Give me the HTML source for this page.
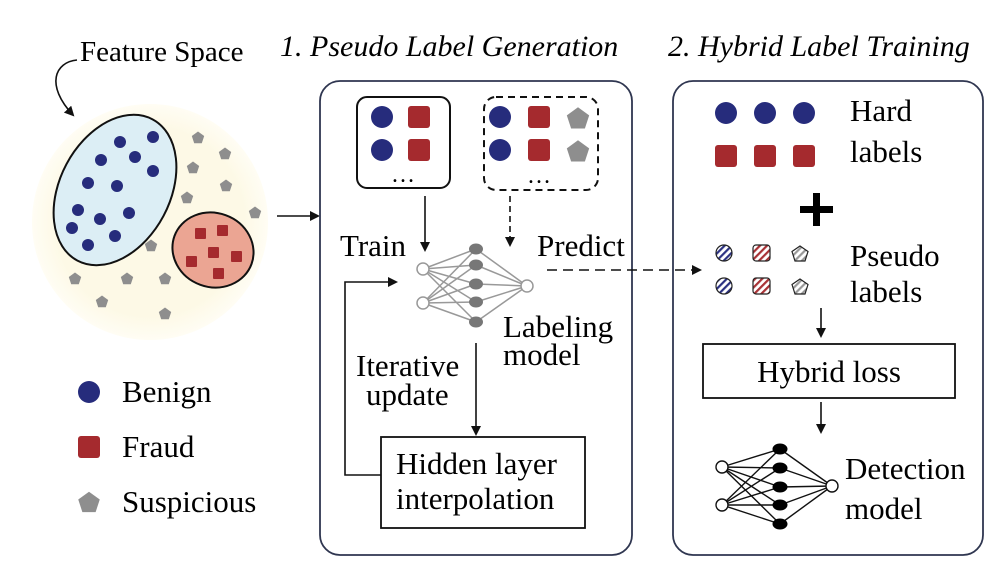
<!DOCTYPE html>
<html><head><meta charset="utf-8"><style>
html,body{margin:0;padding:0;background:#fff;}
svg{display:block;font-family:"Liberation Serif",serif;}
</style></head><body>
<svg width="1000" height="577" viewBox="0 0 1000 577" xmlns="http://www.w3.org/2000/svg">
<defs>
<marker id="ah" markerWidth="10" markerHeight="10" refX="8" refY="5" orient="auto" markerUnits="userSpaceOnUse"><path d="M0,0 L10,5 L0,10 z" fill="#111"/></marker>
<radialGradient id="yg"><stop offset="0.8" stop-color="#fdf9e6"/><stop offset="1" stop-color="#fffdf4"/></radialGradient>
<path id="pent" d="M0,-9 L8.6,-2.8 L5.3,7.3 L-5.3,7.3 L-8.6,-2.8 z" fill="#8e8e8e"/>
<path id="pents" d="M0,-6.5 L6.2,-2 L3.8,5.3 L-3.8,5.3 L-6.2,-2 z" fill="#8e8e8e"/>
<pattern id="sb" width="5" height="5" patternUnits="userSpaceOnUse" patternTransform="rotate(45)"><rect width="5" height="5" fill="#fff"/><rect width="2.2" height="5" fill="#2b3182"/></pattern>
<pattern id="sr" width="5" height="5" patternUnits="userSpaceOnUse" patternTransform="rotate(45)"><rect width="5" height="5" fill="#fff"/><rect width="2.2" height="5" fill="#a83236"/></pattern>
<pattern id="sg" width="5" height="5" patternUnits="userSpaceOnUse" patternTransform="rotate(45)"><rect width="5" height="5" fill="#fff"/><rect width="2.2" height="5" fill="#999"/></pattern>
</defs>

<text x="80" y="61" font-size="29">Feature Space</text>
<text x="280" y="56" font-size="30" font-style="italic">1. Pseudo Label Generation</text>
<text x="668" y="56" font-size="30" font-style="italic">2. Hybrid Label Training</text>
<path d="M77,60 C55,62 45,85 73,115" fill="none" stroke="#111" stroke-width="1.6" marker-end="url(#ah)"/>

<circle cx="150" cy="222" r="118" fill="url(#yg)"/>
<ellipse cx="115" cy="190" rx="55" ry="80" transform="rotate(28 115 190)" fill="#dceef5" stroke="#111" stroke-width="2"/>
<ellipse cx="213" cy="250" rx="41" ry="37" transform="rotate(20 213 250)" fill="#eba593" stroke="#111" stroke-width="2"/>
<g fill="#262c7c">
<circle cx="120" cy="142" r="6"/><circle cx="153" cy="137" r="6"/><circle cx="101" cy="160" r="6"/><circle cx="135" cy="157" r="6"/><circle cx="153" cy="171" r="6"/><circle cx="88" cy="183" r="6"/><circle cx="117" cy="186" r="6"/><circle cx="78" cy="210" r="6"/><circle cx="100" cy="219" r="6"/><circle cx="129" cy="213" r="6"/><circle cx="72" cy="228" r="6"/><circle cx="115" cy="236" r="6"/><circle cx="88" cy="245" r="6"/>
</g>
<g fill="#a52a2e">
<rect x="195" y="228" width="11" height="11" rx="1"/><rect x="217" y="225" width="11" height="11" rx="1"/><rect x="208" y="247" width="11" height="11" rx="1"/><rect x="231" y="251" width="11" height="11" rx="1"/><rect x="186" y="256" width="11" height="11" rx="1"/><rect x="213" y="268" width="11" height="11" rx="1"/>
</g>
<g>
<use href="#pents" x="198" y="138"/><use href="#pents" x="225" y="154"/><use href="#pents" x="193" y="168"/><use href="#pents" x="226" y="186"/><use href="#pents" x="187" y="198"/><use href="#pents" x="255" y="213"/><use href="#pents" x="151" y="246"/><use href="#pents" x="75" y="279"/><use href="#pents" x="127" y="279"/><use href="#pents" x="165" y="279"/><use href="#pents" x="102" y="302"/><use href="#pents" x="165" y="314"/>
</g>
<line x1="277" y1="216" x2="318" y2="216" stroke="#111" stroke-width="1.6" marker-end="url(#ah)"/>

<circle cx="89" cy="392" r="11" fill="#262c7c"/>
<text x="122" y="402" font-size="31">Benign</text>
<rect x="78" y="436" width="22" height="22" rx="3" fill="#a52a2e"/>
<text x="122" y="457" font-size="31">Fraud</text>
<use href="#pent" transform="translate(89 503) scale(1.25)"/>
<text x="122" y="512" font-size="31">Suspicious</text>

<rect x="320" y="81" width="312" height="474" rx="20" fill="none" stroke="#2f3650" stroke-width="1.8"/>
<rect x="357" y="97" width="93" height="91" rx="10" fill="none" stroke="#111" stroke-width="2"/>
<circle cx="382" cy="117" r="11" fill="#262c7c"/><circle cx="382" cy="150" r="11" fill="#262c7c"/>
<rect x="408" y="106" width="22" height="22" rx="3" fill="#a52a2e"/><rect x="408" y="139" width="22" height="22" rx="3" fill="#a52a2e"/>
<text x="403" y="182" font-size="24" text-anchor="middle">…</text>
<rect x="484" y="97" width="114" height="93" rx="12" fill="none" stroke="#111" stroke-width="2" stroke-dasharray="7,5"/>
<circle cx="500" cy="117" r="11" fill="#262c7c"/><circle cx="500" cy="150" r="11" fill="#262c7c"/>
<rect x="528" y="106" width="22" height="22" rx="3" fill="#a52a2e"/><rect x="528" y="139" width="22" height="22" rx="3" fill="#a52a2e"/>
<use href="#pent" transform="translate(578 119) scale(1.3)"/><use href="#pent" transform="translate(578 152) scale(1.3)"/>
<text x="539" y="183" font-size="24" text-anchor="middle">…</text>
<line x1="425" y1="196" x2="425" y2="250" stroke="#111" stroke-width="1.6" marker-end="url(#ah)"/>
<line x1="510" y1="196" x2="510" y2="245" stroke="#111" stroke-width="1.6" stroke-dasharray="6,4" marker-end="url(#ah)"/>
<text x="340" y="256" font-size="31">Train</text>
<text x="537" y="256" font-size="31">Predict</text>
<g stroke="#999" stroke-width="1.5">
<line x1="423" y1="269" x2="476" y2="249"/><line x1="423" y1="269" x2="476" y2="265"/><line x1="423" y1="269" x2="476" y2="284"/><line x1="423" y1="269" x2="476" y2="302"/><line x1="423" y1="269" x2="476" y2="322"/>
<line x1="423" y1="303" x2="476" y2="249"/><line x1="423" y1="303" x2="476" y2="265"/><line x1="423" y1="303" x2="476" y2="284"/><line x1="423" y1="303" x2="476" y2="302"/><line x1="423" y1="303" x2="476" y2="322"/>
<line x1="527" y1="286" x2="476" y2="249"/><line x1="527" y1="286" x2="476" y2="265"/><line x1="527" y1="286" x2="476" y2="284"/><line x1="527" y1="286" x2="476" y2="302"/><line x1="527" y1="286" x2="476" y2="322"/>
</g>
<g fill="#777"><ellipse cx="476" cy="249" rx="7" ry="5.5"/><ellipse cx="476" cy="265" rx="7" ry="5.5"/><ellipse cx="476" cy="284" rx="7" ry="5.5"/><ellipse cx="476" cy="302" rx="7" ry="5.5"/><ellipse cx="476" cy="322" rx="7" ry="5.5"/></g>
<g fill="#fff" stroke="#999" stroke-width="1.5"><circle cx="423" cy="269" r="6"/><circle cx="423" cy="303" r="6"/><circle cx="527" cy="286" r="6"/></g>
<text x="503" y="337" font-size="31">Labeling</text>
<text x="503" y="365" font-size="31">model</text>
<line x1="547" y1="270" x2="700" y2="270" stroke="#111" stroke-width="1.6" stroke-dasharray="10,6" marker-end="url(#ah)"/>
<line x1="476" y1="343" x2="476" y2="434" stroke="#111" stroke-width="1.6" marker-end="url(#ah)"/>
<text x="356" y="376" font-size="31">Iterative</text>
<text x="366" y="405" font-size="31">update</text>
<rect x="381" y="437" width="204" height="91" fill="#fff" stroke="#111" stroke-width="1.8"/>
<text x="396" y="474" font-size="31">Hidden layer</text>
<text x="396" y="509" font-size="31">interpolation</text>
<path d="M381,475 L345,475 L345,282 L396,282" fill="none" stroke="#111" stroke-width="1.6" marker-end="url(#ah)"/>

<rect x="673" y="81" width="310" height="474" rx="20" fill="none" stroke="#2f3650" stroke-width="1.8"/>
<g fill="#262c7c"><circle cx="726" cy="113" r="11"/><circle cx="765" cy="113" r="11"/><circle cx="804" cy="113" r="11"/></g>
<g fill="#a52a2e"><rect x="715" y="145" width="22" height="22" rx="3"/><rect x="754" y="145" width="22" height="22" rx="3"/><rect x="793" y="145" width="22" height="22" rx="3"/></g>
<text x="850" y="121" font-size="31">Hard</text>
<text x="850" y="162" font-size="31">labels</text>
<rect x="800" y="206" width="33" height="7" fill="#000"/><rect x="813" y="193" width="7" height="33" fill="#000"/>
<g stroke="#222" stroke-width="1.2">
<circle cx="724" cy="253" r="8" fill="url(#sb)"/><circle cx="724" cy="286" r="8" fill="url(#sb)"/>
<rect x="753" y="245" width="17" height="16" rx="3" fill="url(#sr)"/><rect x="753" y="278" width="17" height="16" rx="3" fill="url(#sr)"/>
<path transform="translate(800 254)" d="M0,-8 L8,-2.5 L5,7 L-5,7 L-8,-2.5 z" fill="url(#sg)"/>
<path transform="translate(800 287)" d="M0,-8 L8,-2.5 L5,7 L-5,7 L-8,-2.5 z" fill="url(#sg)"/>
</g>
<text x="850" y="266" font-size="31">Pseudo</text>
<text x="850" y="302" font-size="31">labels</text>
<line x1="821" y1="308" x2="821" y2="336" stroke="#111" stroke-width="1.6" marker-end="url(#ah)"/>
<rect x="703" y="344" width="252" height="54" fill="#fff" stroke="#111" stroke-width="1.8"/>
<text x="829" y="382" font-size="31" text-anchor="middle">Hybrid loss</text>
<line x1="821" y1="402" x2="821" y2="432" stroke="#111" stroke-width="1.6" marker-end="url(#ah)"/>
<g stroke="#111" stroke-width="1.4">
<line x1="722" y1="467" x2="780" y2="449"/><line x1="722" y1="467" x2="780" y2="468"/><line x1="722" y1="467" x2="780" y2="487"/><line x1="722" y1="467" x2="780" y2="505"/><line x1="722" y1="467" x2="780" y2="524"/>
<line x1="722" y1="505" x2="780" y2="449"/><line x1="722" y1="505" x2="780" y2="468"/><line x1="722" y1="505" x2="780" y2="487"/><line x1="722" y1="505" x2="780" y2="505"/><line x1="722" y1="505" x2="780" y2="524"/>
<line x1="832" y1="486" x2="780" y2="449"/><line x1="832" y1="486" x2="780" y2="468"/><line x1="832" y1="486" x2="780" y2="487"/><line x1="832" y1="486" x2="780" y2="505"/><line x1="832" y1="486" x2="780" y2="524"/>
</g>
<g fill="#000"><ellipse cx="780" cy="449" rx="7.5" ry="5.5"/><ellipse cx="780" cy="468" rx="7.5" ry="5.5"/><ellipse cx="780" cy="487" rx="7.5" ry="5.5"/><ellipse cx="780" cy="505" rx="7.5" ry="5.5"/><ellipse cx="780" cy="524" rx="7.5" ry="5.5"/></g>
<g fill="#fff" stroke="#111" stroke-width="1.4"><circle cx="722" cy="467" r="6"/><circle cx="722" cy="505" r="6"/><circle cx="832" cy="486" r="6"/></g>
<text x="845" y="479" font-size="31">Detection</text>
<text x="845" y="519" font-size="31">model</text>
</svg>
</body></html>
